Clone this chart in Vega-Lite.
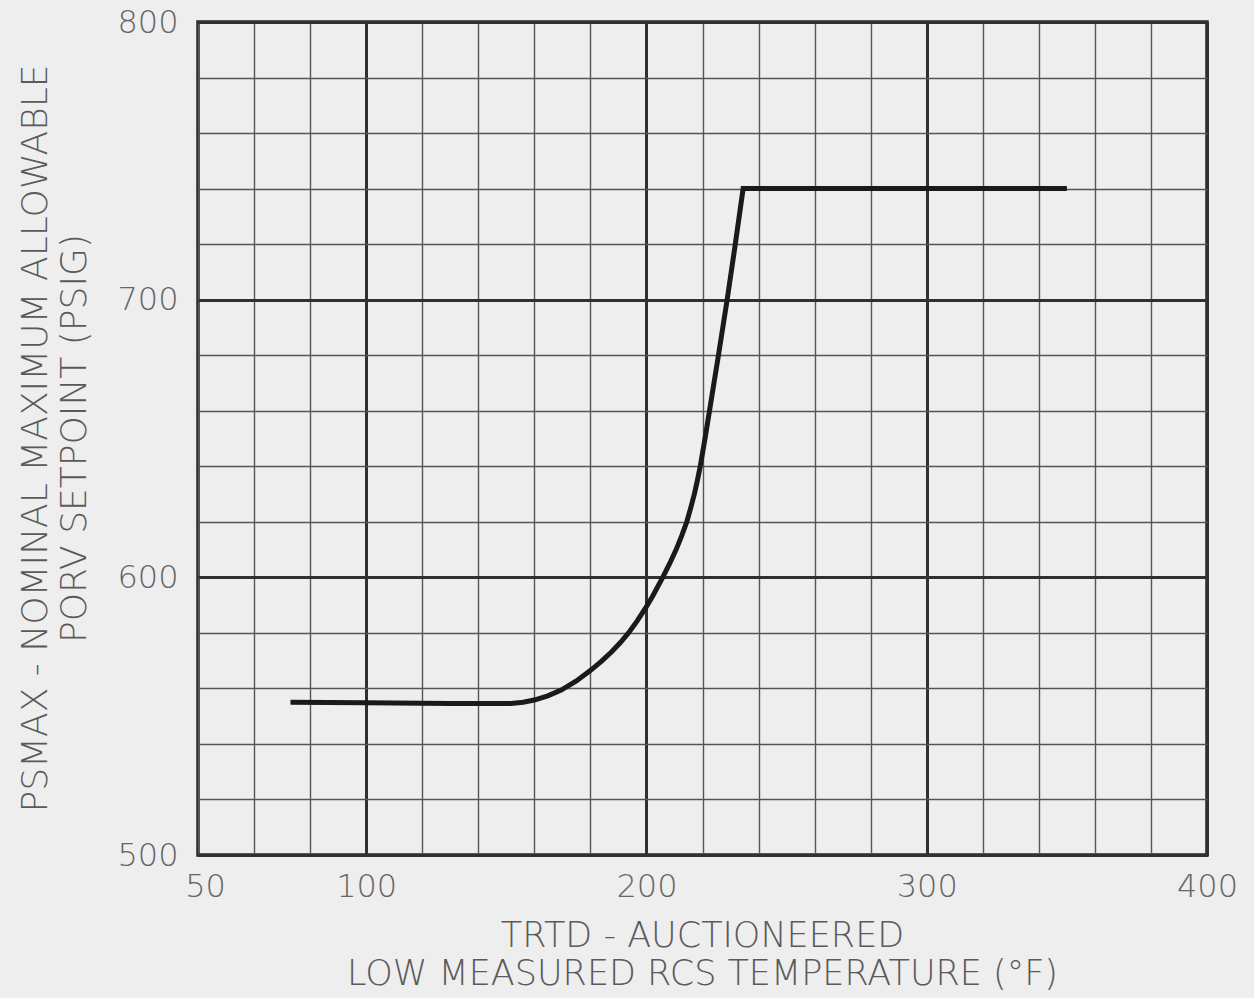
{
  "$schema": "https://vega.github.io/schema/vega-lite/v6.json",
  "width": 1009,
  "height": 833,
  "autosize": {"type": "none"},
  "padding": {"left": 198, "top": 22, "right": 47, "bottom": 143},
  "background": "#eeeeee",
  "config": {
    "view": {"stroke": "#262626", "strokeWidth": 3.5},
    "font": "DejaVu Sans"
  },
  "data": {
    "values": [
      {"T": 73, "P": 555},
      {"T": 100, "P": 554.8},
      {"T": 130, "P": 554.6},
      {"T": 151.6, "P": 554.6},
      {"T": 156, "P": 555},
      {"T": 160, "P": 555.8},
      {"T": 164.8, "P": 557.3},
      {"T": 169.6, "P": 559.4},
      {"T": 175, "P": 562.7},
      {"T": 180.2, "P": 566.6},
      {"T": 184, "P": 569.8},
      {"T": 187.6, "P": 573.2},
      {"T": 190.7, "P": 576.5},
      {"T": 193.6, "P": 580},
      {"T": 196.7, "P": 584.3},
      {"T": 199.6, "P": 588.8},
      {"T": 202.2, "P": 593.2},
      {"T": 205.8, "P": 600},
      {"T": 208.3, "P": 605},
      {"T": 210.6, "P": 610},
      {"T": 212.6, "P": 615},
      {"T": 214.4, "P": 620},
      {"T": 215.8, "P": 625},
      {"T": 217.1, "P": 630},
      {"T": 218.2, "P": 635},
      {"T": 219.2, "P": 640},
      {"T": 220.9, "P": 650},
      {"T": 222.5, "P": 660},
      {"T": 224.1, "P": 670},
      {"T": 225.7, "P": 680},
      {"T": 228.8, "P": 700},
      {"T": 231.7, "P": 720},
      {"T": 234.5, "P": 740},
      {"T": 350, "P": 740}
    ]
  },
  "mark": {"type": "line", "color": "#1a1a1a", "strokeWidth": 5, "strokeCap": "butt", "strokeJoin": "miter"},
  "encoding": {
    "x": {
      "field": "T",
      "type": "quantitative",
      "scale": {"domain": [40, 400], "nice": false, "zero": false},
      "axis": {
        "values": [40, 60, 80, 100, 120, 140, 160, 180, 200, 220, 240, 260, 280, 300, 320, 340, 360, 380, 400],
        "grid": true,
        "gridColor": {"condition": {"test": "datum.value % 100 === 0", "value": "#303030"}, "value": "#555555"},
        "gridWidth": {"condition": {"test": "datum.value % 100 === 0", "value": 3}, "value": 1.4},
        "domain": false,
        "ticks": false,
        "tickSize": 0,
        "labelOverlap": false,
        "labelFlush": false,
        "labelExpr": "datum.value == 40 ? '50' : (datum.value % 100 == 0 ? datum.label : '')",
        "labelOffset": {"condition": {"test": "datum.value == 40", "value": 7}, "value": 0},
        "labelFontSize": 32,
        "labelFontWeight": 200,
        "labelColor": "#666666",
        "labelPadding": 16,
        "labelBaseline": "top",
        "title": ["TRTD - AUCTIONEERED", "LOW MEASURED RCS TEMPERATURE (°F)"],
        "titleFontSize": 35,
        "titleFontWeight": 200,
        "titleColor": "#5a5a5a",
        "titleLineHeight": 38,
        "titleBaseline": "top",
        "titleAlign": "center",
        "titleX": 504,
        "titleY": 63
      }
    },
    "y": {
      "field": "P",
      "type": "quantitative",
      "scale": {"domain": [500, 800], "nice": false, "zero": false},
      "axis": {
        "values": [500, 520, 540, 560, 580, 600, 620, 640, 660, 680, 700, 720, 740, 760, 780, 800],
        "grid": true,
        "gridColor": {"condition": {"test": "datum.value % 100 === 0", "value": "#303030"}, "value": "#555555"},
        "gridWidth": {"condition": {"test": "datum.value % 100 === 0", "value": 3}, "value": 1.4},
        "domain": false,
        "ticks": false,
        "tickSize": 0,
        "labelOverlap": false,
        "labelFlush": false,
        "labelExpr": "datum.value % 100 == 0 ? datum.label : ''",
        "labelFontSize": 32,
        "labelFontWeight": 200,
        "labelColor": "#666666",
        "labelPadding": 20,
        "title": ["PSMAX - NOMINAL MAXIMUM ALLOWABLE", "PORV SETPOINT (PSIG)"],
        "titleFontSize": 36,
        "titleFontWeight": 200,
        "titleColor": "#5a5a5a",
        "titleLineHeight": 39,
        "titleBaseline": "top",
        "titleAlign": "center",
        "titleAngle": -90,
        "titleX": -180,
        "titleY": 416
      }
    }
  }
}
